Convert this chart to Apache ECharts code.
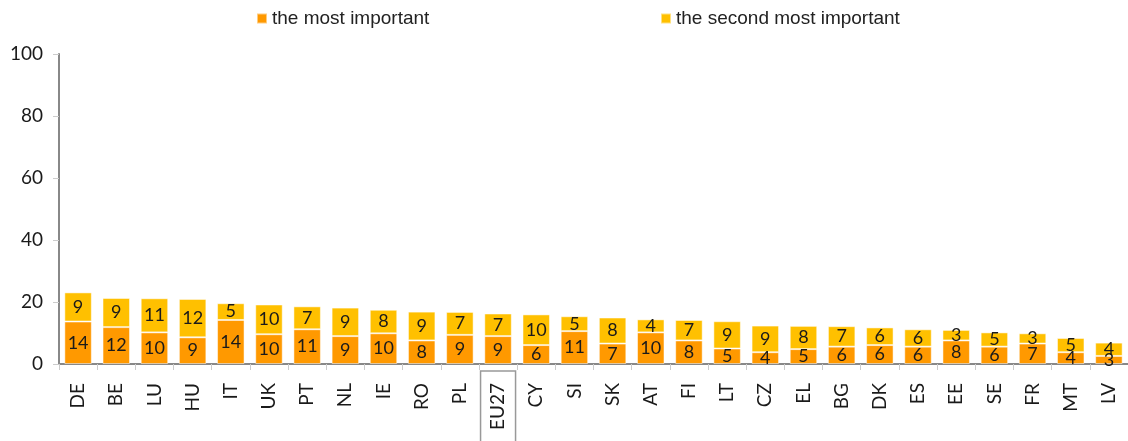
<!DOCTYPE html>
<html>
<head>
<meta charset="utf-8">
<script src="https://cdn.jsdelivr.net/npm/echarts@6/dist/echarts.min.js"></script>
<style>
    html, body { margin: 0; padding: 0; background: #fff; }
    #chart { width: 1128px; height: 441px; }
</style>
</head>
<body>
<div id="chart"></div>
<script>
// 国家/地区
const countries = ['DE', 'BE', 'LU', 'HU', 'IT', 'UK', 'PT', 'NL', 'IE', 'RO', 'PL', 'EU27', 'CY', 'SI',
    'SK', 'AT', 'FI', 'LT', 'CZ', 'EL', 'BG', 'DK', 'ES', 'EE', 'SE', 'FR', 'MT', 'LV'];
// 最重要
const mostImportant = [13.7, 11.9, 10.2, 8.6, 14.2, 9.6, 11.2, 9.0, 9.9, 7.6, 9.4, 9.0, 6.1, 10.6,
    6.6, 10.2, 7.6, 5.0, 3.8, 4.8, 5.6, 6.1, 5.6, 7.6, 5.6, 6.6, 3.8, 2.6];
// 第二重要
const secondImportant = [9.4, 9.4, 11.0, 12.4, 5.4, 9.6, 7.4, 9.2, 7.6, 9.3, 7.4, 7.3, 9.9, 4.8,
    8.4, 4.2, 6.6, 8.8, 8.6, 7.5, 6.6, 5.7, 5.6, 3.4, 4.6, 3.3, 4.6, 4.3];
const yTicks = [0, 20, 40, 60, 80, 100];

const seriesNames = ['the most important', 'the second most important'];
const fontName = 'Lato';

const chart = echarts.init(document.getElementById('chart'));

const barLabel = {
    show: true,
    position: 'inside',
    color: '#1a1a1a',
    fontFamily: fontName,
    fontSize: 18,
    formatter: function (p) {
        return Math.round(p.value);
    }
};

option = {
    animation: false,
    legend: [
        {
            data: [seriesNames[0]],
            left: 256,
            top: 9,
            padding: 0,
            itemWidth: 10,
            itemHeight: 10,
            icon: 'rect',
            textStyle: { fontFamily: 'Liberation Sans', fontSize: 19, color: '#222' }
        },
        {
            data: [seriesNames[1]],
            left: 660,
            top: 9,
            padding: 0,
            itemWidth: 10,
            itemHeight: 10,
            icon: 'rect',
            textStyle: { fontFamily: 'Liberation Sans', fontSize: 19, color: '#222' }
        }
    ],
    grid: {
        left: 59,
        right: 0,
        top: 54,
        bottom: 77,
        containLabel: false,
        outerBoundsMode: 'none'
    },
    xAxis: {
        type: 'category',
        data: countries,
        axisLine: { lineStyle: { color: '#888', width: 2 } },
        axisTick: { show: true, length: 6, interval: 0, lineStyle: { color: '#ccc' } },
        axisLabel: {
            interval: 0,
            rotate: 90,
            margin: 7,
            fontFamily: fontName,
            fontSize: 19,
            color: '#1a1a1a',
            formatter: function (v) {
                return v === 'EU27' ? '{b|' + v + '}' : '{n|' + v + '}';
            },
            rich: {
                n: {
                    fontFamily: fontName,
                    fontSize: 19,
                    color: '#1a1a1a',
                    lineHeight: 22,
                    padding: [8, 12, 8, 0]
                },
                b: {
                    fontFamily: fontName,
                    fontSize: 19,
                    color: '#1a1a1a',
                    lineHeight: 22,
                    padding: [8, 12, 8, 40],
                    borderColor: '#999',
                    borderWidth: 1.5
                }
            }
        }
    },
    yAxis: {
        type: 'value',
        min: yTicks[0],
        max: yTicks[yTicks.length - 1],
        interval: 20,
        splitLine: { show: false },
        axisLine: { show: true, lineStyle: { color: '#888', width: 2 } },
        axisTick: { show: true, length: 6, lineStyle: { color: '#ccc' } },
        axisLabel: {
            margin: 16,
            fontFamily: fontName,
            fontSize: 19,
            color: '#1a1a1a'
        }
    },
    series: [
        {
            name: seriesNames[0],
            type: 'bar',
            stack: 'total',
            barWidth: '72%',
            data: mostImportant,
            itemStyle: { color: '#FF9900', borderColor: 'rgba(255,255,255,0.5)', borderWidth: 1 },
            label: barLabel
        },
        {
            name: seriesNames[1],
            type: 'bar',
            stack: 'total',
            barWidth: '72%',
            data: secondImportant,
            itemStyle: { color: '#FFC000', borderColor: 'rgba(255,255,255,0.5)', borderWidth: 1 },
            label: barLabel
        }
    ]
};

chart.setOption(option);
</script>
</body>
</html>
